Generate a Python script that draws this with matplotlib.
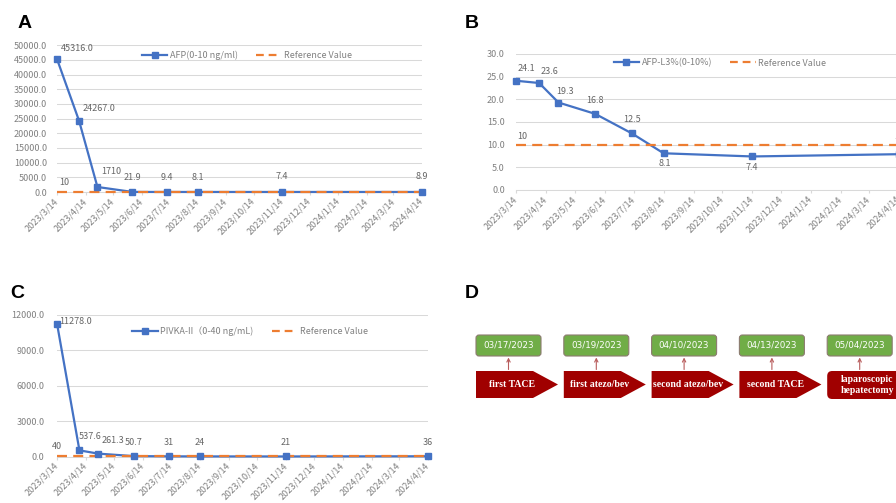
import numpy as np
import pandas as pd
import matplotlib
matplotlib.use('Agg')
import matplotlib.pyplot as plt
import matplotlib.dates as mdates
from matplotlib.lines import Line2D
from matplotlib.patches import FancyBboxPatch, Polygon
from matplotlib.ticker import FuncFormatter

# --- datos ---
sample_dates = ['2023-03-14', '2023-04-07', '2023-04-27', '2023-06-04',
                '2023-07-12', '2023-08-14', '2023-11-14', '2024-04-14']

afp = [45316.0, 24267.0, 1710, 21.9, 9.4, 8.1, 7.4, 8.9]
afp_labels = ['45316.0', '24267.0', '1710', '21.9', '9.4', '8.1', '7.4', '8.9']
afp_ref = 10

afp_l3 = [24.1, 23.6, 19.3, 16.8, 12.5, 8.1, 7.4, 7.9]
afp_l3_labels = ['24.1', '23.6', '19.3', '16.8', '12.5', '8.1', '7.4', '']
afp_l3_ref = 10

pivka = [11278.0, 537.6, 261.3, 50.7, 31, 24, 21, 36]
pivka_labels = ['11278.0', '537.6', '261.3', '50.7', '31', '24', '21', '36']
pivka_ref = 40

event_dates = ['03/17/2023', '03/19/2023', '04/10/2023', '04/13/2023', '05/04/2023']
events = ['first TACE', 'first atezo/bev', 'second atezo/bev', 'second TACE',
          'laparoscopic\nhepatectomy']

# --- estilo ---
W, H = 896, 503
BLUE = '#4472C4'
ORANGE = '#ED7D31'
GRID = '#D9D9D9'
TICK = '#808080'
LABEL = '#666666'
RED = '#A00000'
GREEN = '#70AD47'

plt.rcParams['font.family'] = ['Noto Sans CJK SC', 'DejaVu Sans']

fig = plt.figure(figsize=(W / 100, H / 100), dpi=100)


def rect(l, t, r, b):
    return [l / W, 1 - b / H, (r - l) / W, (b - t) / H]


def date_fmt(x, pos):
    d = mdates.num2date(x)
    return f"{d.year}/{d.month}/{d.day}"


def draw_panel(ax, values, labels, offsets, ref, ref_labels, ymax, ystep,
               name, legend_xy, ypad):
    x = mdates.date2num(pd.to_datetime(sample_dates))
    ax.plot(x, values, color=BLUE, lw=1.6, zorder=3, clip_on=False)
    ax.plot([x[0], x[-1]], [ref, ref], color=ORANGE, lw=1.6,
            ls=(0, (4.5, 2.8)), zorder=4, clip_on=False)
    ax.plot(x, values, ls='none', marker='s', ms=4.5, color=BLUE,
            zorder=5, clip_on=False)

    for xi, v, lbl, (dx, dy) in zip(x, values, labels, offsets):
        if lbl:
            ax.annotate(lbl, (xi, v), xytext=(dx * 0.72, dy * 0.72),
                        textcoords='offset points', ha='center', va='center',
                        fontsize=6.5, color=LABEL, annotation_clip=False)
    for i, lbl, dx, dy in ref_labels:
        ax.annotate(lbl, (x[i], ref), xytext=(dx * 0.72, dy * 0.72),
                    textcoords='offset points', ha='center', va='center',
                    fontsize=6.5, color=LABEL, annotation_clip=False)

    ax.set_xlim(mdates.date2num(pd.Timestamp('2023-03-14')),
                mdates.date2num(pd.Timestamp('2024-04-14')))
    ax.set_ylim(0, ymax)
    ax.set_yticks(np.arange(0, ymax + ystep / 2, ystep))
    ax.yaxis.set_major_formatter(FuncFormatter(lambda v, p: f"{v:.1f}"))
    ax.xaxis.set_major_locator(mdates.MonthLocator(bymonthday=14))
    ax.xaxis.set_major_formatter(FuncFormatter(date_fmt))

    ax.yaxis.grid(True, color=GRID, lw=0.75)
    ax.set_axisbelow(True)
    for s in ['top', 'right', 'left']:
        ax.spines[s].set_visible(False)
    ax.spines['bottom'].set_color(GRID)
    ax.spines['bottom'].set_linewidth(0.75)
    ax.tick_params(axis='y', length=0, labelsize=6.5, labelcolor=TICK, pad=ypad)
    ax.tick_params(axis='x', length=2.5, color=GRID, labelsize=6.5,
                   labelcolor=TICK, pad=3)
    for t in ax.get_xticklabels():
        t.set_rotation(45)
        t.set_ha('right')
        t.set_va('center')
        t.set_rotation_mode('anchor')

    handles = [Line2D([], [], color=BLUE, lw=1.6, marker='s', ms=4.5),
               Line2D([], [], color=ORANGE, lw=1.6, ls=(0, (3.5, 2.2)))]
    ax.legend(handles, [name, 'Reference Value'], loc='center',
              bbox_to_anchor=(legend_xy[0] / W, 1 - legend_xy[1] / H),
              bbox_transform=fig.transFigure, ncol=2, frameon=False,
              fontsize=6.5, handlelength=2.8, handletextpad=0.3,
              columnspacing=2.0, labelcolor=TICK)


# --- Panel A ---
ax_a = fig.add_axes(rect(57, 45.3, 422, 192))
draw_panel(ax_a, afp, afp_labels,
           [(20, 11), (20, 12), (14, 15), (0, 14), (0, 14), (0, 14), (0, 15), (0, 15)],
           afp_ref, [(0, '10', 7, 9)], 50000, 5000,
           'AFP(0-10 ng/ml)', (247, 55), 7)

# --- Panel B ---
ax_b = fig.add_axes(rect(516, 54, 899, 190))
draw_panel(ax_b, afp_l3, afp_l3_labels,
           [(10, 12), (10, 12), (7, 11), (0, 13), (0, 14), (1, -10), (-1, -11), (0, 0)],
           afp_l3_ref, [(0, '10', 6, 8), (7, '10', 0, 8)], 30, 5,
           'AFP-L3%(0-10%)', (720, 63), 8)

# --- Panel C ---
ax_c = fig.add_axes(rect(57, 315, 428, 456.7))
draw_panel(ax_c, pivka, pivka_labels,
           [(19, 2), (11, 14), (15, 13), (0, 14), (0, 14), (0, 14), (0, 14), (0, 14)],
           pivka_ref, [(0, '40', 0, 10)], 12000, 3000,
           'PIVKA-II（0-40 ng/mL)', (250, 331), 9)

# --- Panel D: linea de tiempo ---
ax_d = fig.add_axes([0, 0, 1, 1])
ax_d.set_xlim(0, W)
ax_d.set_ylim(H, 0)
ax_d.axis('off')

step = 87.8
for i, (d, ev) in enumerate(zip(event_dates, events)):
    x0 = 476 + i * step
    box = FancyBboxPatch((x0, 335), 65, 21, boxstyle='round,pad=0,rounding_size=3',
                         fc=GREEN, ec='#8C7B70', lw=0.8)
    ax_d.add_patch(box)
    ax_d.text(x0 + 32.5, 345.5, d, color='white', fontsize=6.3,
              family='DejaVu Sans', ha='center', va='center')
    ax_d.annotate('', xy=(x0 + 32.5, 357.5), xytext=(x0 + 32.5, 369.5),
                  arrowprops=dict(arrowstyle='->', color='#B85C5C', lw=0.8,
                                  mutation_scale=6, shrinkA=0, shrinkB=0))
    if i < len(events) - 1:
        shape = Polygon([(x0, 371), (x0 + 57, 371), (x0 + 82, 384.5),
                         (x0 + 57, 398), (x0, 398)], closed=True, fc=RED, ec='none')
        ax_d.add_patch(shape)
        ax_d.text(x0 + 36, 384.5, ev, color='white', fontsize=7,
                  family='Liberation Serif', weight='bold', ha='center', va='center')
    else:
        shape = FancyBboxPatch((x0, 371), 85, 28, boxstyle='round,pad=0,rounding_size=5',
                               fc=RED, ec='none')
        ax_d.add_patch(shape)
        ax_d.text(x0 + 40, 385, ev, color='white', fontsize=7, linespacing=1.15,
                  family='Liberation Serif', weight='bold', ha='center', va='center')

# --- letras de panel ---
for letter, px, py in [('A', 18, 28), ('B', 465, 28), ('C', 10, 298), ('D', 465, 298)]:
    fig.text(px / W, 1 - py / H, letter, fontsize=14, weight='bold',
             family='Liberation Sans', va='baseline', ha='left')

fig.savefig('out.png', dpi=100)
